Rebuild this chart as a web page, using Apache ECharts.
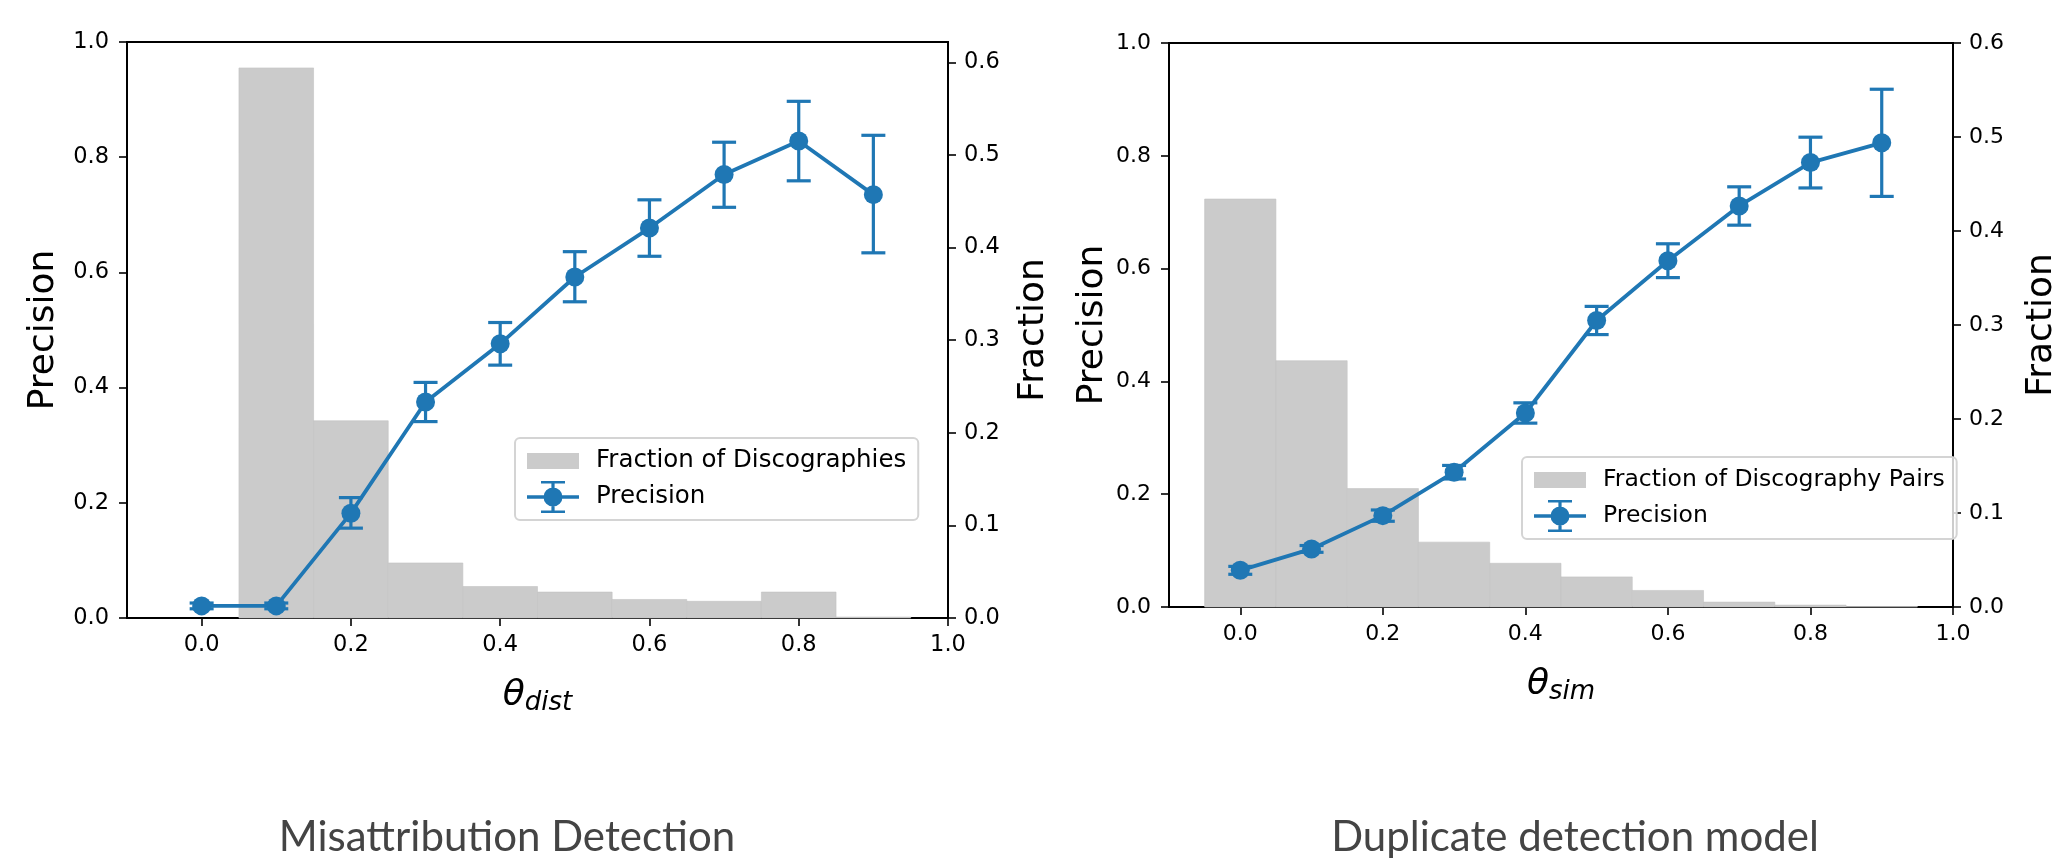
<!DOCTYPE html>
<html>
<head>
<meta charset="utf-8">
<script src="https://cdn.jsdelivr.net/npm/echarts@6/dist/echarts.min.js"></script>
<style>
  html, body { margin: 0; padding: 0; background: #fff; }
  #chart { width: 2061px; height: 860px; }
</style>
</head>
<body>
<div id="chart"></div>
<script>
// ---- data ----
const thresholds = [0.0, 0.1, 0.2, 0.3, 0.4, 0.5, 0.6, 0.7, 0.8, 0.9];
const xTicks = [0.0, 0.2, 0.4, 0.6, 0.8, 1.0];
const fractionTicks = [0.0, 0.1, 0.2, 0.3, 0.4, 0.5, 0.6];
const binWidth = 0.1;

// left: misattribution detection
const distPrecision = [0.021, 0.021, 0.182, 0.375, 0.476, 0.592, 0.677, 0.770, 0.828, 0.735];
const distLow       = [0.016, 0.016, 0.156, 0.341, 0.439, 0.549, 0.628, 0.713, 0.759, 0.634];
const distHigh      = [0.026, 0.026, 0.209, 0.409, 0.513, 0.636, 0.726, 0.826, 0.897, 0.838];
const distBinCenters = [0.1, 0.2, 0.3, 0.4, 0.5, 0.6, 0.7, 0.8, 0.9];
const distFraction   = [0.594, 0.213, 0.0594, 0.034, 0.028, 0.020, 0.018, 0.028, 0.001];

// right: duplicate detection
const simPrecision = [0.065, 0.103, 0.162, 0.239, 0.344, 0.508, 0.614, 0.711, 0.788, 0.823];
const simLow       = [0.058, 0.097, 0.152, 0.227, 0.326, 0.483, 0.584, 0.677, 0.743, 0.728];
const simHigh      = [0.072, 0.109, 0.172, 0.251, 0.362, 0.533, 0.644, 0.745, 0.833, 0.918];
const simBinCenters = [0.0, 0.1, 0.2, 0.3, 0.4, 0.5, 0.6, 0.7, 0.8, 0.9];
const simFraction   = [0.434, 0.262, 0.126, 0.069, 0.0465, 0.032, 0.0176, 0.0052, 0.002, 0.0005];

const BLUE = '#1f77b4';
const GRAY = '#cbcbcb';
const FONT = 'DejaVu Sans';

const chart = echarts.init(document.getElementById('chart'), null, { renderer: 'canvas' });

function renderHist(params, api) {
  const c = api.value(0);
  const v = api.value(1);
  const p0 = api.coord([c - binWidth / 2, v]);
  const p1 = api.coord([c + binWidth / 2, 0]);
  return {
    type: 'rect',
    shape: { x: p0[0], y: p0[1], width: p1[0] - p0[0], height: p1[1] - p0[1] },
    style: { fill: GRAY, stroke: '#c2c2c2', lineWidth: 0.6 },
  };
}

function renderErr(params, api) {
  const x = api.value(0);
  const top = api.coord([x, api.value(2)]);
  const bot = api.coord([x, api.value(1)]);
  const cap = 12;
  const st = { stroke: BLUE, lineWidth: 3.2 };
  return {
    type: 'group',
    children: [
      { type: 'line', shape: { x1: top[0], y1: top[1], x2: bot[0], y2: bot[1] }, style: st },
      { type: 'line', shape: { x1: top[0] - cap, y1: top[1], x2: top[0] + cap, y2: top[1] }, style: st },
      { type: 'line', shape: { x1: bot[0] - cap, y1: bot[1], x2: bot[0] + cap, y2: bot[1] }, style: st },
    ],
  };
}

// legend icons (tiny corner specks keep both icons the same box)
const rectIcon = 'path://M0,0h0.01v0.01h-0.01z M0,9h52v16h-52z M52,34h-0.01v-0.01h0.01z';
const errIcon = 'path://M0,0h0.01v0.01h-0.01z M0,15.3h52v3.4h-52z M24.4,2h3.2v30h-3.2z M14,1h24v2.6h-24z M14,30.4h24v2.6h-24z M16.5,17a9.5,9.5 0 1,1 19,0a9.5,9.5 0 1,1 -19,0z M52,34h-0.01v-0.01h0.01z';

const axisLine = { show: true, onZero: false, lineStyle: { color: '#000', width: 2 } };
const axisTick = { show: true, length: 8, lineStyle: { color: '#000', width: 1.6 } };
const fmt = v => v.toFixed(1);

function tickLabel(size) {
  return { color: '#000', fontFamily: FONT, fontSize: size };
}

function xAxisFor(idx, sub, size) {
  return {
    type: 'value', gridIndex: idx, min: -0.1, max: 1.0,
    axisLine, splitLine: { show: false },
    axisTick: Object.assign({ customValues: xTicks }, axisTick),
    axisLabel: Object.assign({ customValues: xTicks, formatter: fmt, margin: 16 }, tickLabel(size)),
    name: '{t|θ}{s|' + sub + '}', nameLocation: 'middle', nameGap: 58,
    nameTextStyle: {
      rich: {
        t: { fontFamily: FONT, fontStyle: 'italic', fontSize: 36, color: '#000' },
        s: { fontFamily: FONT, fontStyle: 'italic', fontSize: 26, color: '#000', padding: [14, 0, 0, 0] },
      },
    },
  };
}

function precAxis(idx, gap, size) {
  return {
    type: 'value', gridIndex: idx, position: 'left', min: 0, max: 1, interval: 0.2,
    axisLine, axisTick, splitLine: { show: false },
    axisLabel: Object.assign({ formatter: fmt, margin: 18 }, tickLabel(size)),
    name: 'Precision', nameLocation: 'middle', nameGap: gap,
    nameTextStyle: { color: '#000', fontFamily: FONT, fontSize: 36 },
  };
}

function fracAxis(idx, max, gap, size) {
  return {
    type: 'value', gridIndex: idx, position: 'right', min: 0, max: max,
    axisLine, splitLine: { show: false },
    axisTick: Object.assign({ customValues: fractionTicks }, axisTick),
    axisLabel: Object.assign({ customValues: fractionTicks, formatter: fmt, margin: 16 }, tickLabel(size)),
    name: 'Fraction', nameLocation: 'middle', nameGap: gap,
    nameTextStyle: { color: '#000', fontFamily: FONT, fontSize: 36 },
  };
}

function legendFor(left, top, names, size) {
  return {
    orient: 'vertical', left: left, top: top, align: 'left',
    itemWidth: 52, itemHeight: 34, itemGap: 2,
    padding: [6, 12, 6, 12],
    backgroundColor: 'rgba(255,255,255,0.8)',
    borderColor: '#d4d4d4', borderWidth: 2, borderRadius: 5,
    textStyle: { color: '#000', fontFamily: FONT, fontSize: size, padding: [0, 0, 0, 12] },
    data: [
      { name: names[0], icon: rectIcon },
      { name: names[1], icon: errIcon },
    ],
  };
}

const zip = (a, b) => a.map((v, i) => [v, b[i]]);
const zip3 = (a, b, c) => a.map((v, i) => [v, b[i], c[i]]);

chart.setOption({
  backgroundColor: '#fff',
  animation: false,
  grid: [
    { left: 127, top: 42, width: 821, height: 576, show: true, borderColor: '#000', borderWidth: 2, backgroundColor: 'transparent' },
    { left: 1169, top: 43, width: 800, height: 564, show: true, borderColor: '#000', borderWidth: 2, backgroundColor: 'transparent' },
  ],
  xAxis: [xAxisFor(0, 'dist', 22.5), xAxisFor(1, 'sim', 22)],
  yAxis: [
    precAxis(0, 65, 22.5), fracAxis(0, 0.622, 68, 22.5),
    precAxis(1, 58, 22), fracAxis(1, 0.6, 71, 22),
  ],
  legend: [
    legendFor(515, 438, ['Fraction of Discographies', 'Precision'], 24.5),
    legendFor(1522, 457, ['Fraction of Discography Pairs', 'Precision'], 23.5),
  ],
  graphic: [
    { type: 'text', x: 507, y: 816, style: { text: 'Misattribution Detection', fontFamily: 'Lato', fontSize: 42, fill: '#444', textAlign: 'center' } },
    { type: 'text', x: 1575, y: 816, style: { text: 'Duplicate detection model', fontFamily: 'Lato', fontSize: 42, fill: '#444', textAlign: 'center' } },
  ],
  series: [
    {
      name: 'Fraction of Discographies', type: 'custom', xAxisIndex: 0, yAxisIndex: 1,
      renderItem: renderHist, data: zip(distBinCenters, distFraction), itemStyle: { color: GRAY }, z: 1,
    },
    {
      name: 'dist-err', type: 'custom', xAxisIndex: 0, yAxisIndex: 0,
      renderItem: renderErr, data: zip3(thresholds, distLow, distHigh), encode: { x: 0, y: [1, 2] }, z: 3,
    },
    {
      name: 'Precision', type: 'line', xAxisIndex: 0, yAxisIndex: 0,
      data: zip(thresholds, distPrecision), symbol: 'circle', symbolSize: 19,
      lineStyle: { color: BLUE, width: 3.8 }, itemStyle: { color: BLUE }, z: 4,
    },
    {
      name: 'Fraction of Discography Pairs', type: 'custom', xAxisIndex: 1, yAxisIndex: 3,
      renderItem: renderHist, data: zip(simBinCenters, simFraction), itemStyle: { color: GRAY }, z: 1,
    },
    {
      name: 'sim-err', type: 'custom', xAxisIndex: 1, yAxisIndex: 2,
      renderItem: renderErr, data: zip3(thresholds, simLow, simHigh), encode: { x: 0, y: [1, 2] }, z: 3,
    },
    {
      name: 'Precision', type: 'line', xAxisIndex: 1, yAxisIndex: 2,
      data: zip(thresholds, simPrecision), symbol: 'circle', symbolSize: 19,
      lineStyle: { color: BLUE, width: 3.8 }, itemStyle: { color: BLUE }, z: 4,
    },
  ],
});
</script>
</body>
</html>
